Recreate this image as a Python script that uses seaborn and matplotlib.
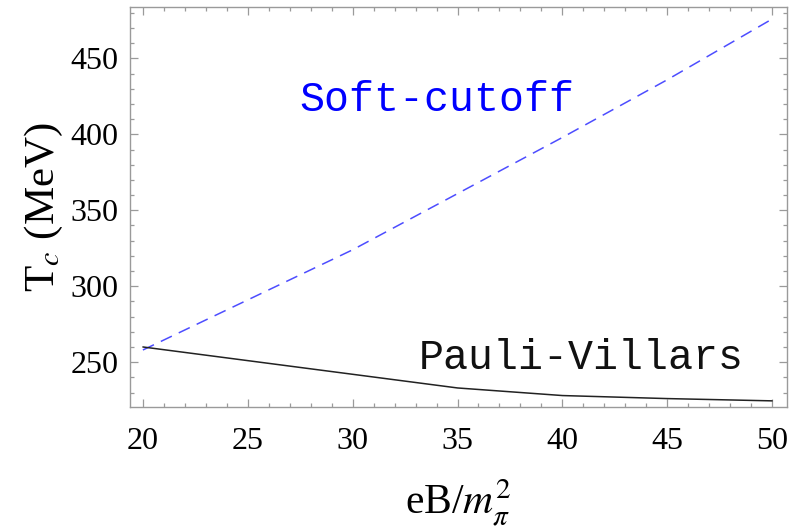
import matplotlib
matplotlib.use("Agg")
import matplotlib.pyplot as plt
import seaborn as sns
import pandas as pd
from matplotlib.ticker import MultipleLocator

eB = [20, 25, 30, 35, 40, 45, 50]
soft_cutoff = [258, 291, 324, 361, 398, 436, 476]
pauli_villars = [260, 251, 242, 233, 228, 226, 224.5]
x_ticks = [20, 25, 30, 35, 40, 45, 50]
y_ticks = [250, 300, 350, 400, 450]

sns.set_style("ticks")
plt.rcParams['font.family'] = ['Liberation Serif', 'DejaVu Serif']
plt.rcParams['mathtext.fontset'] = 'stix'

df = pd.DataFrame({"eB": eB, "soft": soft_cutoff, "pv": pauli_villars})

fig = plt.figure(figsize=(7.92, 5.28), dpi=100)
ax = fig.add_axes([0.164, 0.229, 0.830, 0.758])

sns.lineplot(data=df, x="eB", y="soft", ax=ax, color=(0.3, 0.3, 1.0),
             linewidth=1.1, dashes=False)
ax.lines[-1].set_dashes([8, 5])
sns.lineplot(data=df, x="eB", y="pv", ax=ax, color="#222222", linewidth=1.1)

ax.set_xlim(19.38, 50.72)
ax.set_ylim(220.4, 484)
ax.set_xticks(x_ticks)
ax.set_yticks(y_ticks)
ax.xaxis.set_minor_locator(MultipleLocator(1))
ax.yaxis.set_minor_locator(MultipleLocator(10))

gray = "#9a9a9a"
for s in ax.spines.values():
    s.set_visible(True)
    s.set_color(gray)
    s.set_linewidth(1.0)
ax.tick_params(which="both", direction="in", top=True, right=True,
               color=gray, width=0.9, labelcolor="black")
ax.tick_params(which="major", length=6, labelsize=23)
ax.tick_params(axis="y", which="major", pad=8)
ax.tick_params(axis="x", which="major", pad=14)
ax.tick_params(which="minor", length=3)

ax.set_xlabel(r"eB/$m_\pi^2$", fontsize=30, labelpad=16, color="black")
ax.set_ylabel(r"T$_c$ (MeV)", fontsize=31, labelpad=4, color="black")

ax.text(34.0, 422.6, "Soft-cutoff", color="#0000ff", fontsize=30,
        family="Liberation Mono", ha="center", va="center")
ax.text(40.9, 253, "Pauli-Villars", color="#111111", fontsize=30,
        family="Liberation Mono", ha="center", va="center")

fig.savefig("out.png", dpi=100)
